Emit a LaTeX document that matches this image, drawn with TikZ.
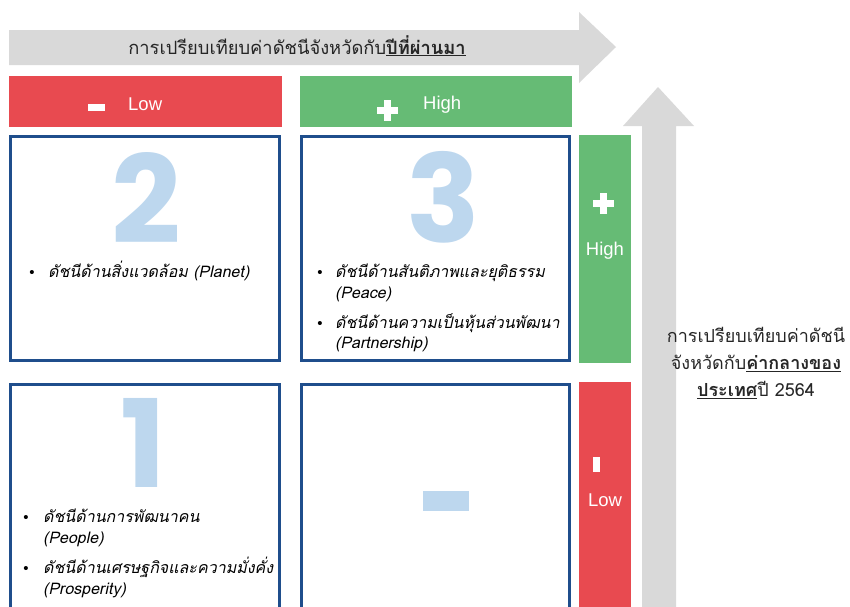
\documentclass[tikz,border=0pt]{standalone}
\usepackage{fontspec}
\setmainfont{Liberation Sans}
\newfontfamily\thai[Script=Thai,ItalicFont={Loma Oblique},BoldFont={Loma Bold},BoldItalicFont={Loma Bold Oblique}]{Loma}
\newfontfamily\bignum{Poppins}
\definecolor{qred}{HTML}{E84A50}
\definecolor{qgreen}{HTML}{66BB75}
\definecolor{qgray}{HTML}{D9D9D9}
\definecolor{qblue}{HTML}{1F4E8C}
\definecolor{qlight}{HTML}{BDD7EE}
\definecolor{qtext}{HTML}{262626}
\begin{document}
\begin{tikzpicture}[x=1pt,y=-1pt,
  quad/.style={draw=qblue, line width=3pt},
  lbl/.style={text=white, font=\fontsize{18.5}{20}\selectfont, inner sep=0pt},
  bigdig/.style={text=qlight, font=\bignum\bfseries\fontsize{122}{122}\selectfont, inner sep=0pt, anchor=base, text depth=0pt, text height=86pt},
  item/.style={font=\thai\itshape\fontsize{16}{18}\selectfont, inner sep=0pt, anchor=base west, text=black, text height=12pt, text depth=4pt},
  dot/.style={font=\fontsize{15}{16}\selectfont, inner sep=0pt, anchor=base, text=black},
  axislbl/.style={text=qtext, inner sep=0pt}
]
\useasboundingbox (0,0) rectangle (850,606);
\clip (0,0) rectangle (850,606);
% gray arrows
\fill[qgray] (9,30) -- (579,30) -- (579,12) -- (616,47) -- (579,83) -- (579,65) -- (9,65) -- cycle;
\fill[qgray] (642,620) -- (642,126) -- (623,126) -- (658,87) -- (694,126) -- (676,126) -- (676,620) -- cycle;
% headers
\fill[qred] (9,76) rectangle (282,127);
\fill[qgreen] (300,76) rectangle (572,127);
\fill[qgreen] (579,135) rectangle (631,363);
\fill[qred] (579,382) rectangle (631,620);
% minus / plus marks
\fill[white] (88,104) rectangle (105,111);
\fill[white] (376.5,106.5) rectangle (397.5,113.5);
\fill[white] (383.5,99.5) rectangle (390.5,120.5);
\fill[white] (593,200) rectangle (614,207);
\fill[white] (600,193) rectangle (607,214);
\fill[white] (593,457) rectangle (600,472);
\node[lbl, anchor=west] (lowh) at (128,104) {Low};
\node[lbl, anchor=west] (highh) at (423,105) {High};
\node[lbl] (highv) at (605,251) {High};
\node[lbl] (lowv) at (605,500) {Low};
% quadrant boxes
\draw[quad] (10.5,136.5) rectangle (279.5,360.5);
\draw[quad] (301.5,136.5) rectangle (569.5,360.5);
\draw[quad] (10.5,384.5) rectangle (279.5,640);
\draw[quad] (301.5,384.5) rectangle (569.5,640);
% big digits
\node[bigdig] (d2) at (146,243) {2};
\node[bigdig] (d3) at (443,242) {3};
\node[bigdig] (d1) at (143,487) {1};
\node[fill=qlight, minimum width=46pt, minimum height=20pt, inner sep=0pt] (dminus) at (446,501) {};
% bullets box 2
\node[dot] (b2a) at (32,277) {\textbullet};
\node[item] (t2a) at (48,277) {ดัชนีด้านสิ่งแวดล้อม (Planet)};
% bullets box 3
\node[dot] (b3a) at (320,277) {\textbullet};
\node[item] (t3a) at (335,277) {ดัชนีด้านสันติภาพและยุติธรรม};
\node[item] (t3b) at (335,298) {(Peace)};
\node[dot] (b3c) at (320,328) {\textbullet};
\node[item] (t3c) at (335,328) {ดัชนีด้านความเป็นหุ้นส่วนพัฒนา};
\node[item] (t3d) at (335,348) {(Partnership)};
% bullets box 1
\node[dot] (b1a) at (26,522) {\textbullet};
\node[item] (t1a) at (43,522) {ดัชนีด้านการพัฒนาคน};
\node[item] (t1b) at (43,543) {(People)};
\node[dot] (b1c) at (26,573) {\textbullet};
\node[item] (t1c) at (43,573) {ดัชนีด้านเศรษฐกิจและความมั่งคั่ง};
\node[item] (t1d) at (43,594) {(Prosperity)};
% axis labels
\node[axislbl, anchor=base, font=\thai\fontsize{18.3}{20}\selectfont] (toplabel) at (297,54) {การเปรียบเทียบค่าดัชนีจังหวัดกับ\underline{\bfseries ปีที่ผ่านมา}};
\node[axislbl, anchor=north, align=center, font=\thai\fontsize{18}{27}\selectfont] (rightlabel) at (756,327) {การเปรียบเทียบค่าดัชนี\\จังหวัดกับ\underline{\bfseries ค่ากลางของ}\\\underline{\bfseries ประเทศ}ปี 2564};
\end{tikzpicture}
\end{document}
